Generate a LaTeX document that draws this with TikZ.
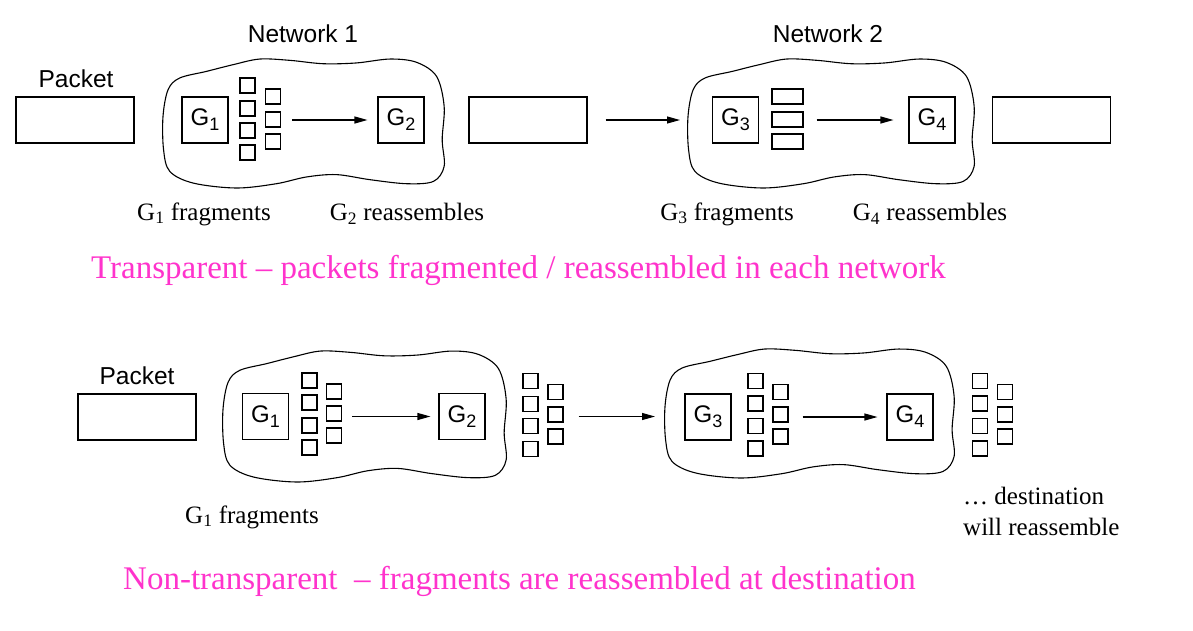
\documentclass[tikz,border=0pt]{standalone}
\usepackage{fontspec}
\setmainfont{Liberation Serif}
\setsansfont{Liberation Sans}
\usetikzlibrary{arrows.meta}
\definecolor{magentatxt}{RGB}{255,51,204}
\newcommand{\gsub}[1]{G\raisebox{-5pt}{\fontsize{18}{20}\selectfont #1}}
\tikzset{
  box/.style={draw, line width=1.1pt, inner sep=0pt},
  pkt/.style={box, minimum width=118pt, minimum height=46pt},
  gw/.style={box, minimum width=46pt, minimum height=46pt, font=\sffamily\fontsize{24}{26}\selectfont},
  frag/.style={box, minimum width=15pt, minimum height=15pt},
  rfrag/.style={box, minimum width=31pt, minimum height=15pt},
  cloudline/.style={draw, line width=1.1pt},
  flow/.style={-{Triangle[length=13pt,width=7pt]}, line width=1.1pt},
  sanslbl/.style={font=\sffamily\fontsize{24.5}{28}\selectfont, inner sep=0pt},
  seriflbl/.style={font=\fontsize{25}{30}\selectfont, inner sep=0pt},
  pinklbl/.style={font=\fontsize{33}{38}\selectfont, text=magentatxt, inner sep=0pt},
}
\newcommand{\netcloud}[5]{%
  \draw[cloudline] plot[smooth cycle, tension=0.55] coordinates {
    ({#1+0.000*#3},{#2+0.450*#4})
    ({#1+0.018*#3},{#2+0.244*#4})
    ({#1+0.059*#3},{#2+0.154*#4})
    ({#1+0.154*#3},{#2+0.103*#4})
    ({#1+0.249*#3},{#2+0.051*#4})
    ({#1+0.343*#3},{#2+0.008*#4})
    ({#1+0.450*#3},{#2+0.018*#4})
    ({#1+0.568*#3},{#2+0.044*#4})
    ({#1+0.686*#3},{#2+0.038*#4})
    ({#1+0.805*#3},{#2+0.008*#4})
    ({#1+0.899*#3},{#2+0.033*#4})
    ({#1+0.970*#3},{#2+0.141*#4})
    ({#1+0.997*#3},{#2+0.372*#4})
    ({#1+0.990*#3},{#2+0.628*#4})
    ({#1+0.997*#3},{#2+0.833*#4})
    ({#1+0.959*#3},{#2+0.949*#4})
    ({#1+0.864*#3},{#2+0.967*#4})
    ({#1+0.734*#3},{#2+0.936*#4})
    ({#1+0.615*#3},{#2+0.897*#4})
    ({#1+0.509*#3},{#2+0.915*#4})
    ({#1+0.402*#3},{#2+0.967*#4})
    ({#1+0.260*#3},{#2+1.000*#4})
    ({#1+0.107*#3},{#2+0.962*#4})
    ({#1+0.024*#3},{#2+0.872*#4})
    ({#1+0.002*#3},{#2+0.705*#4})
  };
  \coordinate (#5) at ({#1},{#2+0.5*#4});
}
\begin{document}
\begin{tikzpicture}[x=1pt,y=-1pt]
\useasboundingbox[fill=white] (0,0) rectangle (1193,630);

% ---------------- Transparent ----------------
\netcloud{163}{58}{282}{130}{c1w}
\netcloud{688}{58}{287}{130}{c2w}

\node[sanslbl] (lpk1) at (76,79) {Packet};
\node[sanslbl] (ln1) at (303,34) {Network 1};
\node[sanslbl] (ln2) at (828,34) {Network 2};

\node[pkt] (p1) at (75,120) {};
\node[gw] (g1) at (205,120) {\gsub{1}};
\node[gw] (g2) at (401,120) {\gsub{2}};
\node[pkt] (p2) at (528,120) {};
\node[gw] (g3) at (735.5,120) {\gsub{3}};
\node[gw] (g4) at (932,120) {\gsub{4}};
\node[pkt] (p3) at (1051.5,120) {};

\node[frag] (fa1) at (247.5,85.5) {};
\node[frag] (fa2) at (247.5,108.5) {};
\node[frag] (fa3) at (247.5,130.5) {};
\node[frag] (fa4) at (247.5,152.5) {};
\node[frag] (fb1) at (273,96.5) {};
\node[frag] (fb2) at (273,119.5) {};
\node[frag] (fb3) at (273,141.5) {};

\node[rfrag] (ra1) at (787.5,96.5) {};
\node[rfrag] (ra2) at (787.5,119.5) {};
\node[rfrag] (ra3) at (787.5,141.5) {};

\draw[flow, shorten <=11pt, shorten >=10pt] (fb2.east |- g2.west) -- (g2.west);
\draw[flow, shorten <=18pt, shorten >=8pt] (p2.east) -- (c2w |- p2.east);
\draw[flow, shorten <=13pt, shorten >=15pt] (ra2.east |- g4.west) -- (g4.west);

\node[seriflbl] (l1) at (204,214) {G\textsubscript{1} fragments};
\node[seriflbl] (l2) at (407,214) {G\textsubscript{2} reassembles};
\node[seriflbl] (l3) at (727,214) {G\textsubscript{3} fragments};
\node[seriflbl] (l4) at (930,214) {G\textsubscript{4} reassembles};

\node[pinklbl] (t1) at (518.5,270) {Transparent -- packets fragmented / reassembled in each network};

% ---------------- Non-transparent ----------------
\netcloud{223}{350}{284}{132}{c3w}
\netcloud{665}{348}{290}{130}{c4w}

\node[sanslbl] (lpk2) at (137,376) {Packet};
\node[pkt] (p4) at (137,417) {};
\node[gw] (h1) at (265.5,416.5) {\gsub{1}};
\node[gw] (h2) at (462,416.5) {\gsub{2}};
\node[gw] (h3) at (708,417) {\gsub{3}};
\node[gw] (h4) at (910,417) {\gsub{4}};

% fragments in network 1
\node[frag] (ga1) at (309.5,380.5) {};
\node[frag] (ga2) at (309.5,402.5) {};
\node[frag] (ga3) at (309.5,425.5) {};
\node[frag] (ga4) at (309.5,447.5) {};
\node[frag] (gb1) at (334,391.5) {};
\node[frag] (gb2) at (334,413.5) {};
\node[frag] (gb3) at (334,435.5) {};
% fragments between networks
\node[frag] (ma1) at (530.5,381) {};
\node[frag] (ma2) at (530.5,404) {};
\node[frag] (ma3) at (530.5,426) {};
\node[frag] (ma4) at (530.5,449) {};
\node[frag] (mb1) at (555.5,392) {};
\node[frag] (mb2) at (555.5,414.5) {};
\node[frag] (mb3) at (555.5,436.5) {};
% fragments in network 2
\node[frag] (ka1) at (755.5,381) {};
\node[frag] (ka2) at (755.5,403.5) {};
\node[frag] (ka3) at (755.5,426) {};
\node[frag] (ka4) at (755.5,448.5) {};
\node[frag] (kb1) at (780.5,392) {};
\node[frag] (kb2) at (780.5,414.5) {};
\node[frag] (kb3) at (780.5,436.5) {};
% fragments at destination
\node[frag] (da1) at (980,381) {};
\node[frag] (da2) at (980,403.5) {};
\node[frag] (da3) at (980,426) {};
\node[frag] (da4) at (980,448.5) {};
\node[frag] (db1) at (1005,392) {};
\node[frag] (db2) at (1005,414.5) {};
\node[frag] (db3) at (1005,436.5) {};

\draw[flow, shorten <=10pt, shorten >=8pt] (gb2.east |- h2.west) -- (h2.west);
\draw[flow, shorten <=15pt, shorten >=10pt] (mb2.east |- h2.west) -- (c4w |- h2.west);
\draw[flow, shorten <=14pt, shorten >=9pt] (kb2.east |- h4.west) -- (h4.west);

\node[seriflbl] (l5) at (252,517) {G\textsubscript{1} fragments};
\node[seriflbl, align=left, anchor=west, font=\fontsize{25}{31}\selectfont] (l6) at (963,511) {\dots\ destination\\will reassemble};

\node[pinklbl] (t2) at (519.5,581) {Non-transparent \ -- fragments are reassembled at destination};
\end{tikzpicture}
\end{document}
